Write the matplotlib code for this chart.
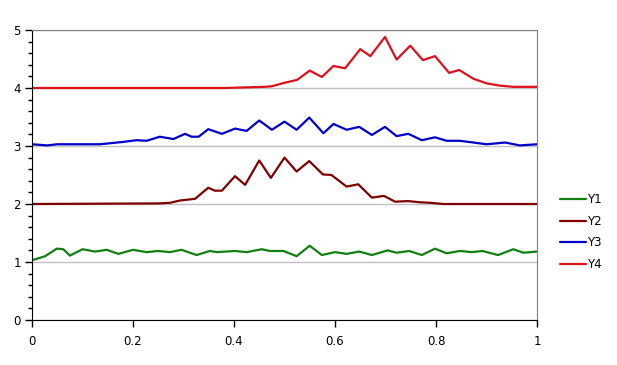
import matplotlib
matplotlib.use("Agg")
import matplotlib.pyplot as plt
from matplotlib.ticker import MultipleLocator

# ---- data ----
x1 = [0.0, 0.026, 0.049, 0.062, 0.075, 0.10, 0.125, 0.148, 0.171, 0.20, 0.227, 0.25,
      0.273, 0.296, 0.326, 0.352, 0.366, 0.402, 0.425, 0.455, 0.471, 0.498, 0.524,
      0.55, 0.574, 0.60, 0.623, 0.648, 0.673, 0.704, 0.722, 0.747, 0.772, 0.798,
      0.821, 0.847, 0.871, 0.892, 0.923, 0.953, 0.973, 1.0]
y1 = [1.03, 1.10, 1.23, 1.22, 1.11, 1.22, 1.18, 1.21, 1.14, 1.21, 1.17, 1.19,
      1.17, 1.21, 1.12, 1.19, 1.17, 1.19, 1.17, 1.22, 1.19, 1.19, 1.10,
      1.28, 1.12, 1.17, 1.14, 1.18, 1.12, 1.20, 1.16, 1.19, 1.12, 1.23,
      1.15, 1.19, 1.17, 1.19, 1.12, 1.22, 1.16, 1.18]

x2 = [0.0, 0.25, 0.273, 0.293, 0.323, 0.349, 0.362, 0.376, 0.402, 0.422, 0.45,
      0.473, 0.50, 0.524, 0.549, 0.576, 0.593, 0.623, 0.646, 0.673, 0.697, 0.719,
      0.745, 0.768, 0.79, 0.814, 1.0]
y2 = [2.0, 2.01, 2.02, 2.06, 2.09, 2.28, 2.23, 2.23, 2.48, 2.33, 2.75,
      2.45, 2.80, 2.56, 2.74, 2.51, 2.50, 2.30, 2.34, 2.11, 2.14, 2.04,
      2.05, 2.03, 2.02, 2.0, 2.0]

x3 = [0.0, 0.03, 0.05, 0.135, 0.18, 0.207, 0.227, 0.253, 0.28, 0.303, 0.316, 0.33,
      0.349, 0.376, 0.402, 0.425, 0.45, 0.475, 0.50, 0.524, 0.549, 0.577, 0.597,
      0.623, 0.648, 0.673, 0.699, 0.722, 0.745, 0.772, 0.798, 0.821, 0.847, 0.874,
      0.90, 0.937, 0.966, 1.0]
y3 = [3.03, 3.01, 3.03, 3.03, 3.07, 3.10, 3.09, 3.16, 3.12, 3.21, 3.16, 3.16,
      3.29, 3.21, 3.30, 3.26, 3.44, 3.28, 3.42, 3.28, 3.49, 3.22, 3.38,
      3.28, 3.33, 3.19, 3.33, 3.17, 3.21, 3.10, 3.15, 3.09, 3.09, 3.06,
      3.03, 3.06, 3.01, 3.03]

x4 = [0.0, 0.38, 0.46, 0.475, 0.50, 0.525, 0.55, 0.574, 0.597, 0.62, 0.65, 0.67,
      0.699, 0.722, 0.749, 0.774, 0.798, 0.826, 0.846, 0.874, 0.90, 0.927, 0.953, 1.0]
y4 = [4.0, 4.0, 4.02, 4.03, 4.09, 4.14, 4.30, 4.19, 4.38, 4.34, 4.67, 4.55,
      4.88, 4.49, 4.73, 4.48, 4.55, 4.26, 4.31, 4.16, 4.08, 4.04, 4.02, 4.02]

labels = ["Y1", "Y2", "Y3", "Y4"]
colors = ["#108010", "#800000", "#0000C8", "#E0101A"]

xticks = [0, 0.2, 0.4, 0.6, 0.8, 1]
xticklabels = ["0", "0.2", "0.4", "0.6", "0.8", "1"]
yticks = [0, 1, 2, 3, 4, 5]

# ---- figure ----
fig = plt.figure(figsize=(6.17, 3.65), dpi=100)
ax = fig.add_axes([32 / 617, 45 / 365, 505 / 617, 290 / 365])

for xs, ys, lab, c in zip([x1, x2, x3, x4], [y1, y2, y3, y4], labels, colors):
    ax.plot(xs, ys, color=c, lw=1.6, label=lab, solid_joinstyle="round",
            solid_capstyle="round")

ax.set_xlim(0, 1)
ax.set_ylim(0, 5)
ax.set_xticks(xticks)
ax.set_xticklabels(xticklabels)
ax.set_yticks(yticks)
ax.yaxis.set_minor_locator(MultipleLocator(0.2))
ax.grid(axis="y", which="major", color="#c0c0c0", lw=1)
ax.set_axisbelow(True)

for s in ["top", "right"]:
    ax.spines[s].set_color("#808080")
for s in ["left", "bottom"]:
    ax.spines[s].set_color("black")

ax.tick_params(axis="both", which="major", direction="out", length=5, width=1,
               labelsize=8.5, colors="black", pad=3)
ax.tick_params(axis="y", which="minor", direction="out", length=3, width=1)
ax.tick_params(axis="x", which="major", pad=6)

leg = ax.legend(loc="center left", bbox_to_anchor=(555 / 617, (365 - 232) / 365),
                bbox_transform=fig.transFigure, frameon=False, fontsize=8.5,
                handlelength=2.2, handletextpad=0.15, labelspacing=0.72,
                borderaxespad=0)

fig.savefig("out.png", dpi=100)
